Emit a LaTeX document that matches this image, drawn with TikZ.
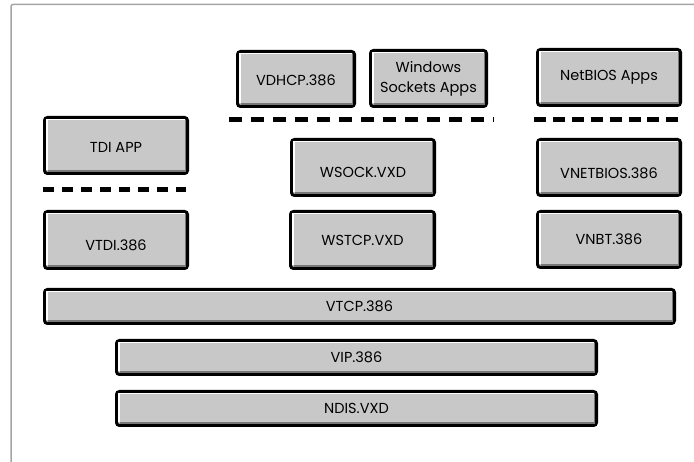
\documentclass[tikz,border=0pt]{standalone}
\usepackage{fontspec}
\setmainfont{Poppins}
\definecolor{boxgray}{RGB}{200,200,200}
\definecolor{shadegray}{RGB}{120,120,120}
\definecolor{framegray}{RGB}{165,165,165}
\newcommand\mybox[7][]{%
  \node[box,#1,minimum width={#5-#3-3},minimum height={#6-#4-3}] (#2) at ({(#3+#5)/2},{(#4+#6)/2}) {#7};
  \draw[white,line width=1.5pt] ([xshift=2.25pt,yshift=3pt]#2.south west) -- ([xshift=2.25pt,yshift=-2.25pt]#2.north west) -- ([xshift=-3pt,yshift=-2.25pt]#2.north east);
  \draw[shadegray,line width=1.5pt] ([xshift=3pt,yshift=2.25pt]#2.south west) -- ([xshift=-2.25pt,yshift=2.25pt]#2.south east) -- ([xshift=-2.25pt,yshift=-3pt]#2.north east);
}
\begin{document}
\begin{tikzpicture}[x=1pt,y=-1pt,
  box/.style={draw=black,line width=3pt,fill=boxgray,rounded corners=3pt,outer sep=0pt,inner sep=0pt,
    font=\fontsize{14.5}{20}\selectfont,align=center},
  down/.style={text height={10+2*#1},text depth=0pt},
  sep/.style={line width=5pt,black}]
\useasboundingbox (0,0) rectangle (694,462);
\draw[framegray,line width=1.5pt,rounded corners=2pt] (11,462) -- (11,4.5) -- (694,4.5);

\mybox[down=2.5]{tdi}{43}{116}{189}{175}{TDI APP}
\mybox[down=2]{vdhcp}{236}{50}{356}{108}{VDHCP.386}
\mybox{wsa}{369}{49}{488}{108}{Windows\\Sockets Apps}
\mybox{netapps}{536}{48}{682}{107}{NetBIOS Apps}
\mybox[down=5.5]{wsock}{290}{138}{436}{197}{WSOCK.VXD}
\mybox[down=6]{vnetbios}{536}{138}{682}{197}{VNETBIOS.386}
\mybox[down=6]{vtdi}{43}{210}{189}{270}{VTDI.386}
\mybox{wstcp}{289}{210}{436}{270}{WSTCP.VXD}
\mybox{vnbt}{536}{210}{682}{269}{VNBT.386}
\mybox{vtcp}{43}{288}{676}{325}{VTCP.386}
\mybox{vip}{115}{339}{598}{376}{VIP.386}
\mybox{ndis}{115}{390}{598}{427}{NDIS.VXD}

\coordinate (l1) at (43,190);  \coordinate (l2) at (186,190);
\coordinate (m1) at (229,120); \coordinate (m2) at (494,120);
\coordinate (r1) at (534,120); \coordinate (r2) at (678,120);
\draw[sep,dash pattern=on 11pt off 8pt] (l1) -- (l2);
\draw[sep,dash pattern=on 13pt off 9pt] (m1) -- (m2);
\draw[sep,dash pattern=on 12pt off 6.9pt] (r1) -- (r2);
\end{tikzpicture}
\end{document}
